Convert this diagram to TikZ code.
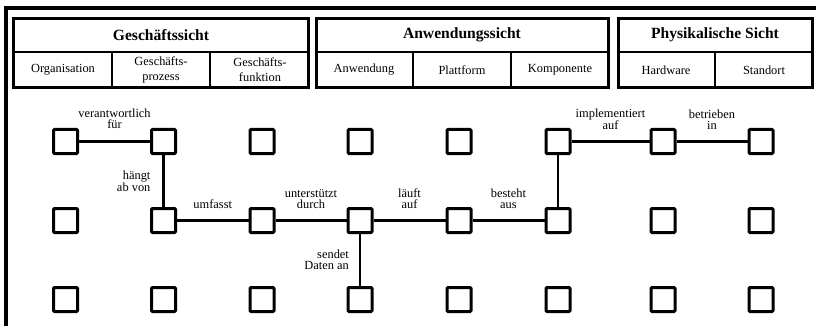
\documentclass[tikz,border=0pt]{standalone}
\usepackage{fontspec}
\setmainfont{Liberation Serif}
\begin{document}
\begin{tikzpicture}[x=1pt,y=-1pt,
  sq/.style={draw, line width=3pt, minimum size=24pt, inner sep=0pt, rounded corners=1pt},
  conn/.style={line width=2.2pt},
  strong/.style={line width=3.3pt},
  frame/.style={line width=3.6pt},
  boxline/.style={line width=3pt},
  cellline/.style={line width=1.4pt},
  head/.style={inner sep=0pt, font=\fontsize{15.6}{18}\selectfont\bfseries},
  cell/.style={inner sep=0pt, align=center, font=\fontsize{12.4}{15}\selectfont},
  lab/.style={inner sep=0pt, text depth=0pt, font=\fontsize{12.4}{11}\selectfont},
  hlab/.style={lab, align=center, above=11pt},
  vlab/.style={lab, align=right}
]
\useasboundingbox (0,0) rectangle (816,326);
% outer frame
\draw[frame] (6,8) -- (816,8);
\draw[frame] (6,6.2) -- (6,326);
% header boxes
\draw[boxline] (13.5,18.5) rectangle (308.5,87.5);
\draw[cellline] (13.5,52) -- (308.5,52);
\draw[cellline] (112,52) -- (112,87.5);
\draw[cellline] (210,52) -- (210,87.5);
\draw[boxline] (316,18.5) rectangle (608.5,87.5);
\draw[cellline] (316,52) -- (608.5,52);
\draw[cellline] (413,52) -- (413,87.5);
\draw[cellline] (511,52) -- (511,87.5);
\draw[boxline] (618,18.5) rectangle (812.5,87.5);
\draw[cellline] (618,52) -- (812.5,52);
\draw[cellline] (715,52) -- (715,87.5);
\node[head] (h1) at (161,35) {Geschäftssicht};
\node[head] (h2) at (462,35) {Anwendungssicht};
\node[head] (h3) at (715,35) {Physikalische Sicht};
\node[cell] (c1) at (63,70) {Organisation};
\node[cell] (c2) at (161,70) {Geschäfts-\\prozess};
\node[cell] (c3) at (260,70) {Geschäfts-\\funktion};
\node[cell] (c4) at (364,70) {Anwendung};
\node[cell] (c5) at (462,70) {Plattform};
\node[cell] (c6) at (560,70) {Komponente};
\node[cell] (c7) at (666,70) {Hardware};
\node[cell] (c8) at (764,70) {Standort};
% squares
\foreach \x [count=\i] in {65.5,163.5,262,360,459,558,663,761}
  \foreach \y [count=\j] in {141.5,220.5,299.5}
    \node[sq] (n\j\i) at (\x,\y) {};
% connectors
\draw[strong] (n11) -- node[hlab]{verantwortlich\\für} (n12);
\draw[conn] (n12) -- node[vlab, left=12pt]{hängt\\ab von} (n22);
\draw[conn] (n22) -- node[hlab]{umfasst} (n23);
\draw[conn] (n23) -- node[hlab]{unterstützt\\durch} (n24);
\draw[conn] (n24) -- node[hlab]{läuft\\auf} (n25);
\draw[conn] (n25) -- node[hlab]{besteht\\aus} (n26);
\draw[conn] (n26) -- (n16);
\draw[conn] (n16) -- node[hlab]{implementiert\\auf} (n17);
\draw[conn] (n17) -- node[hlab]{betrieben\\in} (n18);
\draw[conn] (n24) -- node[vlab, left=10pt]{sendet\\Daten an} (n34);
\end{tikzpicture}
\end{document}
